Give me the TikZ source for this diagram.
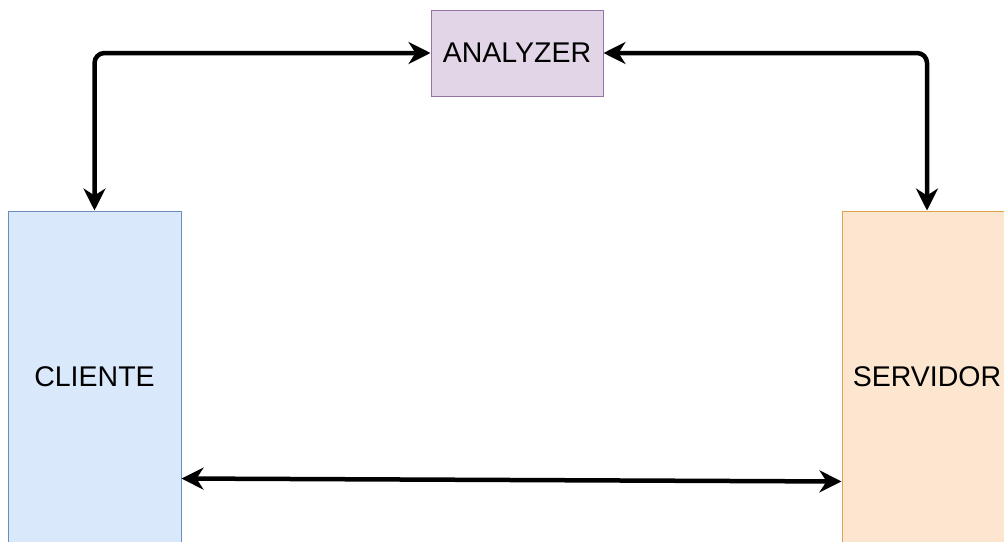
\documentclass[tikz,border=0pt]{standalone}
\usepackage{fontspec}
\setmainfont{Liberation Sans}
\usetikzlibrary{arrows.meta,calc}
\definecolor{anaFill}{HTML}{E1D5E7}
\definecolor{anaLine}{HTML}{9673A6}
\definecolor{cliFill}{HTML}{DAE8FC}
\definecolor{cliLine}{HTML}{6C8EBF}
\definecolor{srvFill}{HTML}{FCE6CF}
\definecolor{srvLine}{HTML}{DDA24A}
\tikzset{
  block/.style={draw, line width=1pt, minimum width=172pt, inner sep=0pt,
                font=\fontsize{28.5}{31}\selectfont},
  tip/.style={Stealth[length=22pt,width=22pt,inset=7pt]},
  link/.style={line width=4.5pt, {Stealth[length=22pt,width=22pt,inset=7pt]}-{Stealth[length=22pt,width=22pt,inset=7pt]}},
}
\begin{document}
\begin{tikzpicture}[x=1pt,y=-1pt]
  \useasboundingbox (0,0) rectangle (1004,541);
  \clip (0,0) rectangle (1004,541);
  \fill[white] (0,0) rectangle (1004,541);

  \node[block, fill=anaFill, draw=anaLine, minimum height=86pt] (ana) at (517,53) {ANALYZER};
  \node[block, fill=cliFill, draw=cliLine, minimum width=173pt, minimum height=332pt] (cli) at (94.5,377) {CLIENTE};
  \node[block, fill=srvFill, draw=srvLine, minimum width=170pt, minimum height=332pt] (srv) at (927,377) {SERVIDOR};

  \draw[link, rounded corners=10pt] (ana.west) -| (cli.north);
  \draw[link, rounded corners=10pt] (ana.east) -| (srv.north);
  \draw[link] ([yshift=-268pt]cli.north east) -- ([yshift=-271pt]srv.north west);
\end{tikzpicture}
\end{document}
